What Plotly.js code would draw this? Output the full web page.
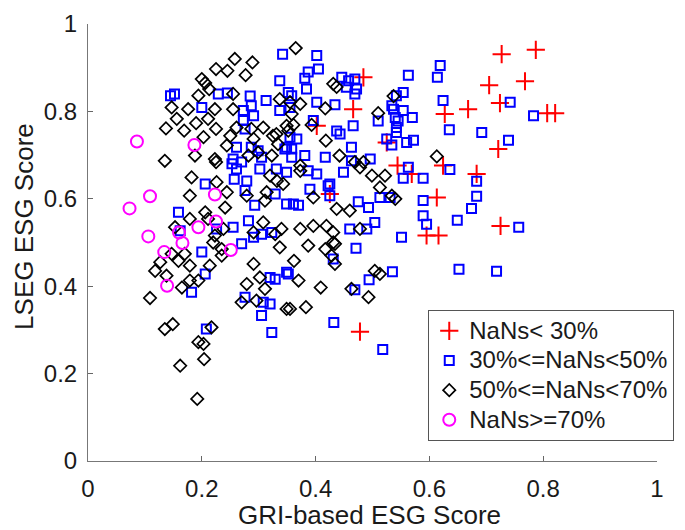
<!DOCTYPE html>
<html>
<head>
<meta charset="utf-8">
<script src="https://cdn.plot.ly/plotly-3.0.1.min.js"></script>
<style>html,body{margin:0;padding:0;background:#fff;}#chart{width:685px;height:530px;}</style>
</head>
<body>
<div id="chart"></div>
<script>
// Series names (legend labels)
const seriesNames = ["NaNs&lt; 30%", "30%&lt;=NaNs&lt;50%", "50%&lt;=NaNs&lt;70%", "NaNs&gt;=70%"];

// NaNs < 30%
const redX = [0.484,0.466,0.402,0.525,0.544,0.569,0.624,0.627,0.668,0.613,0.683,0.425,0.595,0.616,0.727,0.787,0.705,0.768,0.724,0.807,0.821,0.721,0.725,0.478];
const redY = [0.878,0.805,0.767,0.729,0.676,0.657,0.676,0.794,0.805,0.603,0.657,0.611,0.516,0.516,0.931,0.941,0.860,0.869,0.819,0.796,0.796,0.714,0.538,0.296];

// 30% <= NaNs < 50%
const blueX = [0.342,0.337,0.145,0.152,0.229,0.245,0.285,0.313,0.200,0.273,0.291,0.337,0.276,0.261,0.299,0.349,0.253,0.270,0.302,0.257,0.279,0.206,0.349,0.276,0.293,0.329,0.349,0.159,0.282,0.255,0.323,0.226,
  0.291,0.270,0.200,0.206,0.182,0.320,0.329,0.352,0.276,0.308,0.320,0.305,0.323,0.208,
  0.402,0.405,0.387,0.381,0.384,0.358,0.355,0.402,0.434,0.446,0.458,0.469,0.472,0.469,0.563,0.619,0.614,0.554,0.542,0.537,0.554,0.540,0.570,0.545,0.542,0.542,0.510,0.466,0.437,0.443,0.624,0.635,0.525,0.534,0.560,0.572,0.355,0.358,0.358,0.463,0.496,0.449,0.402,0.390,0.425,0.361,0.475,0.493,0.513,0.554,0.563,0.589,0.589,0.636,0.674,0.683,0.683,0.649,0.589,0.595,0.504,0.460,0.490,0.551,0.692,
  0.742,0.783,0.739,0.757,0.718,0.652,
  0.471,0.349,0.431,0.494,0.535,0.469,0.432,0.518,
  0.287,0.273,0.287,0.255,0.305,0.352,
  0.261,0.331,0.305,0.162,
  0.454,0.367,0.396,0.346,0.381,0.417,0.463,0.534,
  0.387,0.422,0.425,0.370,0.531];
const blueY = [0.931,0.870,0.836,0.840,0.840,0.842,0.835,0.825,0.809,0.802,0.790,0.802,0.760,0.718,0.710,0.718,0.680,0.684,0.668,0.645,0.641,0.634,0.661,0.619,0.585,0.611,0.588,0.569,0.550,0.535,0.523,0.531,
  0.512,0.497,0.478,0.428,0.386,0.420,0.416,0.428,0.375,0.363,0.359,0.333,0.294,0.302,
  0.928,0.897,0.890,0.876,0.851,0.836,0.809,0.821,0.815,0.878,0.870,0.874,0.851,0.840,0.883,0.905,0.878,0.843,0.836,0.805,0.802,0.786,0.786,0.778,0.763,0.752,0.778,0.767,0.755,0.748,0.825,0.758,0.737,0.723,0.729,0.734,0.741,0.714,0.695,0.718,0.691,0.661,0.657,0.622,0.634,0.588,0.593,0.580,0.603,0.647,0.672,0.647,0.596,0.667,0.578,0.606,0.640,0.551,0.561,0.542,0.546,0.531,0.531,0.512,0.752,
  0.821,0.790,0.734,0.535,0.434,0.439,
  0.487,0.432,0.462,0.415,0.433,0.392,0.317,0.255,
  0.813,0.779,0.718,0.691,0.695,0.843,
  0.668,0.668,0.519,0.527,
  0.855,0.737,0.779,0.714,0.699,0.695,0.687,0.813,
  0.664,0.630,0.607,0.585,0.603];

// 50% <= NaNs < 70%
const blackX = [0.365,0.258,0.289,0.225,0.245,0.277,0.200,0.206,0.213,0.194,0.255,0.337,0.147,0.176,0.223,0.156,0.190,0.211,0.137,0.169,0.225,0.203,0.250,0.261,0.308,0.325,0.349,0.244,0.291,0.334,0.135,0.188,0.225,0.282,0.323,0.182,0.226,0.320,0.332,0.343,0.314,0.179,0.244,0.279,0.311,0.206,0.241,0.211,0.308,0.291,0.340,0.153,0.223,
  0.238,0.329,0.220,0.235,0.147,0.159,0.127,0.118,0.138,0.214,0.291,0.179,0.194,0.165,0.279,0.302,0.311,0.270,0.296,0.109,0.349,0.135,0.149,0.217,0.194,0.203,0.162,0.204,0.192,
  0.431,0.437,0.537,0.510,0.417,0.393,0.361,0.373,0.355,0.418,0.442,0.469,0.484,0.613,0.373,0.499,0.522,0.513,0.534,0.540,0.396,0.437,0.460,0.373,0.396,0.419,0.478,
  0.431,0.431,0.417,0.428,0.434,0.362,0.370,0.409,0.463,0.493,0.513,0.355,0.383,
  0.255,0.287,0.331,0.223,0.299,
  0.179,0.170,0.179,0.235,0.337,
  0.358,0.352,0.373,
  0.387,0.434,0.504,0.478];
const blackY = [0.945,0.920,0.912,0.897,0.893,0.883,0.874,0.865,0.851,0.836,0.840,0.828,0.809,0.805,0.805,0.783,0.773,0.783,0.761,0.756,0.760,0.741,0.744,0.763,0.763,0.744,0.767,0.722,0.737,0.725,0.687,0.699,0.684,0.699,0.699,0.649,0.638,0.653,0.641,0.634,0.615,0.607,0.615,0.607,0.596,0.569,0.580,0.554,0.546,0.523,0.531,0.535,0.516,
  0.531,0.519,0.500,0.485,0.474,0.458,0.455,0.435,0.424,0.447,0.451,0.413,0.413,0.397,0.405,0.420,0.394,0.363,0.367,0.373,0.348,0.302,0.313,0.306,0.272,0.268,0.218,0.233,0.142,
  0.863,0.856,0.835,0.796,0.807,0.769,0.769,0.817,0.821,0.733,0.699,0.684,0.684,0.697,0.664,0.653,0.653,0.626,0.607,0.600,0.603,0.577,0.573,0.531,0.538,0.538,0.531,
  0.523,0.500,0.485,0.470,0.451,0.458,0.413,0.397,0.394,0.375,0.428,0.348,0.352,
  0.805,0.760,0.748,0.691,0.706,
  0.554,0.474,0.447,0.470,0.489,
  0.794,0.756,0.676,
  0.493,0.497,0.435,0.672];

// NaNs >= 70%
const magX = [0.086,0.187,0.109,0.073,0.223,0.225,0.194,0.160,0.106,0.166,0.134,0.251,0.139];
const magY = [0.731,0.723,0.606,0.578,0.610,0.548,0.535,0.523,0.514,0.499,0.478,0.483,0.401];

// Axis ticks
const tickVals = [0, 0.2, 0.4, 0.6, 0.8, 1];
const tickText = ["0", "0.2", "0.4", "0.6", "0.8", "1"];

const FONT = "Liberation Sans, Arial, Helvetica, sans-serif";
const TXT = "#1a1a1a";
const big = s => '<span style="font-size:24px">' + s + '</span>';

const traces = [
  {x: redX, y: redY, name: big(seriesNames[0]), type: "scatter", mode: "markers",
   marker: {symbol: "cross-thin-open", size: 13, color: "#ff0000", line: {color: "#ff0000", width: 2}}},
  {x: blueX, y: blueY, name: big(seriesNames[1]), type: "scatter", mode: "markers",
   marker: {symbol: "square-open", size: 9, color: "#0000ff", line: {color: "#0000ff", width: 2}}},
  {x: blackX, y: blackY, name: big(seriesNames[2]), type: "scatter", mode: "markers",
   marker: {symbol: "diamond-open", size: 9.5, color: "#000000", line: {color: "#000000", width: 1.7}}},
  {x: magX, y: magY, name: big(seriesNames[3]), type: "scatter", mode: "markers",
   marker: {symbol: "circle-open", size: 12, color: "#ff00ff", line: {color: "#ff00ff", width: 2}}}
];

const axisCommon = {
  range: [0, 1], tickmode: "array", tickvals: tickVals, ticktext: tickText,
  ticks: "inside", ticklen: 5, tickwidth: 1, tickcolor: "#666",
  showline: true, linecolor: "#777", linewidth: 1, mirror: false,
  showgrid: false, zeroline: false,
  tickfont: {family: FONT, size: 24, color: TXT},
  fixedrange: true, automargin: false
};

const layout = {
  width: 685, height: 530,
  margin: {l: 88, r: 28, t: 24, b: 69, autoexpand: false},
  paper_bgcolor: "#ffffff", plot_bgcolor: "#ffffff",
  font: {family: FONT, color: TXT},
  showlegend: true,
  xaxis: Object.assign({}, axisCommon, {ticklabelstandoff: 6}),
  yaxis: Object.assign({}, axisCommon, {ticklabelstandoff: 5}),
  legend: {
    x: 0.598, y: 0.3455, xanchor: "left", yanchor: "top",
    bgcolor: "#ffffff", bordercolor: "#555", borderwidth: 1,
    font: {family: FONT, size: 20.5, color: TXT},
    itemwidth: 30, tracegroupgap: 0
  },
  annotations: [
    {text: "GRI-based ESG Score", xref: "paper", yref: "paper", x: 0.4956, y: -0.124,
     xanchor: "center", yanchor: "middle", showarrow: false,
     font: {family: FONT, size: 26, color: TXT}},
    {text: "LSEG ESG Score", xref: "paper", yref: "paper", x: -0.1125, y: 0.538,
     xanchor: "center", yanchor: "middle", showarrow: false, textangle: -90,
     font: {family: FONT, size: 26, color: TXT}}
  ]
};

Plotly.newPlot("chart", traces, layout, {staticPlot: true, displayModeBar: false});
</script>
</body>
</html>
